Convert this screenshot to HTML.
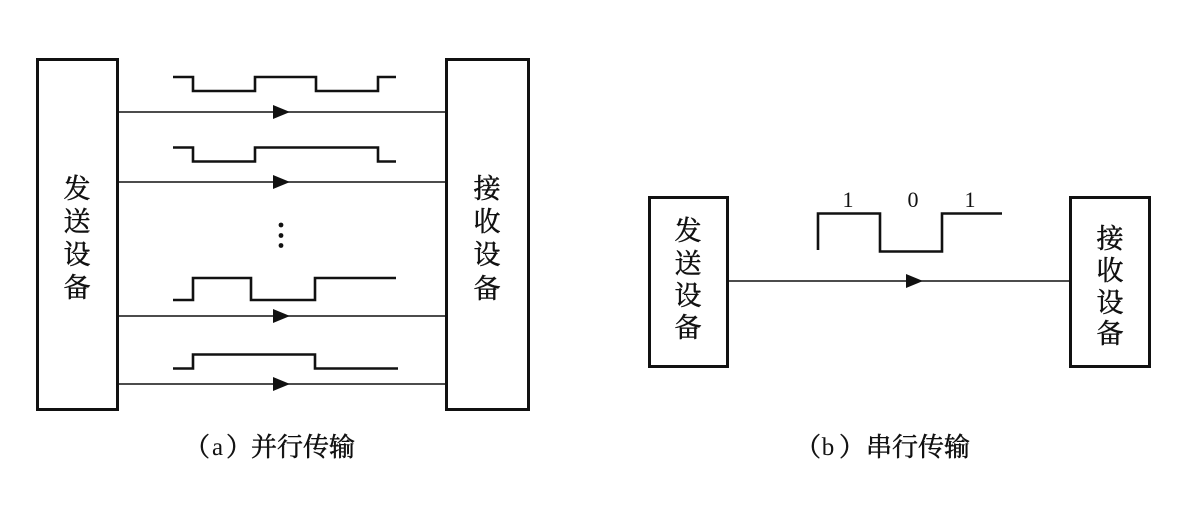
<!DOCTYPE html>
<html><head><meta charset="utf-8">
<style>
html,body{margin:0;padding:0;background:#fff;}
svg{display:block;}
.cj{font-family:"Liberation Serif","Noto Serif CJK SC",serif;font-size:27px;fill:#111;stroke:#111;stroke-width:0.5;}
.cap{font-family:"Liberation Serif","Noto Serif CJK SC",serif;font-size:26px;fill:#111;stroke:#111;stroke-width:0.5;}
.lat{font-family:"Liberation Serif",serif;font-size:25px;fill:#111;}
.num{font-family:"Liberation Serif",serif;font-size:22px;fill:#111;}
</style></head>
<body>
<svg width="1192" height="519" viewBox="0 0 1192 519" xmlns="http://www.w3.org/2000/svg">
<rect width="1192" height="519" fill="#fff"/>
<g fill="none" stroke="#111">
  <!-- (a) boxes -->
  <rect x="37.5" y="59.5" width="80" height="350" stroke-width="3"/>
  <rect x="446.5" y="59.5" width="82" height="350" stroke-width="3"/>
  <!-- (a) lines -->
  <g stroke-width="1.6">
    <line x1="119" y1="112" x2="445" y2="112"/>
    <line x1="119" y1="182" x2="445" y2="182"/>
    <line x1="119" y1="316" x2="445" y2="316"/>
    <line x1="119" y1="384" x2="445" y2="384"/>
  </g>
  <!-- (a) waveforms -->
  <g stroke-width="2.6" stroke-linejoin="miter">
    <polyline points="173,77 193,77 193,91 255,91 255,77 316,77 316,91 378,91 378,77 396,77"/>
    <polyline points="173,147.5 193,147.5 193,161.5 255,161.5 255,147.5 378,147.5 378,161.5 396,161.5"/>
    <polyline points="173,300 193,300 193,278 251,278 251,300 315,300 315,278 396,278"/>
    <polyline points="173,368.5 193,368.5 193,354.5 315,354.5 315,368.5 398,368.5"/>
  </g>
  <!-- (b) boxes -->
  <rect x="649.5" y="197.5" width="78" height="169" stroke-width="3"/>
  <rect x="1070.5" y="197.5" width="79" height="169" stroke-width="3"/>
  <line x1="729" y1="281" x2="1069" y2="281" stroke-width="1.6"/>
  <polyline points="818,250 818,213.5 880,213.5 880,251.5 942,251.5 942,213.5 1002,213.5" stroke-width="2.6"/>
</g>
<!-- arrowheads -->
<g fill="#111">
  <polygon points="273,105 273,119 290,112"/>
  <polygon points="273,175 273,189 290,182"/>
  <polygon points="273,309 273,323 290,316"/>
  <polygon points="273,377 273,391 290,384"/>
  <polygon points="906,274 906,288 923,281"/>
  <circle cx="281" cy="225" r="2.4"/>
  <circle cx="281" cy="235.5" r="2.4"/>
  <circle cx="281" cy="245.5" r="2.4"/>
</g>
<!-- box labels -->
<g class="cj" text-anchor="middle" dominant-baseline="central">
  <text x="77" y="189">发</text>
  <text x="77" y="222">送</text>
  <text x="77" y="255">设</text>
  <text x="77" y="288">备</text>
  <text x="487" y="189">接</text>
  <text x="487" y="222">收</text>
  <text x="487" y="255">设</text>
  <text x="487" y="289">备</text>
  <text x="688" y="231">发</text>
  <text x="688" y="264">送</text>
  <text x="688" y="296">设</text>
  <text x="688" y="328">备</text>
  <text x="1110" y="239">接</text>
  <text x="1110" y="271">收</text>
  <text x="1110" y="303">设</text>
  <text x="1110" y="334">备</text>
</g>
<g class="num" text-anchor="middle">
  <text x="848" y="207">1</text>
  <text x="913" y="207">0</text>
  <text x="970" y="207">1</text>
</g>
<!-- captions -->
<g class="cap">
  <text x="184" y="456">（</text>
  <text x="226" y="456">）</text>
  <text x="251" y="456">并行传输</text>
  <text x="795" y="456">（</text>
  <text x="839" y="456">）</text>
  <text x="866" y="456">串行传输</text>
</g>
<g class="lat" text-anchor="middle">
  <text x="217.5" y="455">a</text>
  <text x="828" y="455">b</text>
</g>
</svg>
</body></html>
